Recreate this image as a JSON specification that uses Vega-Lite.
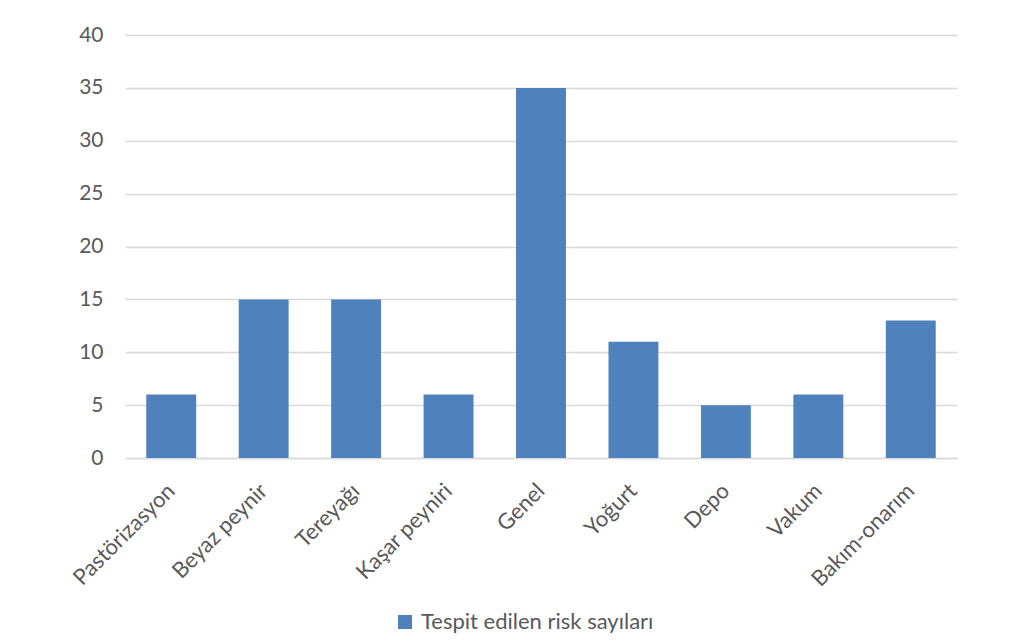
{
  "$schema": "https://vega.github.io/schema/vega-lite/v6.json",
  "autosize": {"type": "none"},
  "width": 832,
  "height": 423,
  "padding": {"left": 125, "top": 35, "right": 59, "bottom": 185},
  "background": "white",
  "data": {
    "values": [
      {"asama": "Pastörizasyon", "risk": 6, "seri": "Tespit edilen risk sayıları"},
      {"asama": "Beyaz peynir", "risk": 15, "seri": "Tespit edilen risk sayıları"},
      {"asama": "Tereyağı", "risk": 15, "seri": "Tespit edilen risk sayıları"},
      {"asama": "Kaşar peyniri", "risk": 6, "seri": "Tespit edilen risk sayıları"},
      {"asama": "Genel", "risk": 35, "seri": "Tespit edilen risk sayıları"},
      {"asama": "Yoğurt", "risk": 11, "seri": "Tespit edilen risk sayıları"},
      {"asama": "Depo", "risk": 5, "seri": "Tespit edilen risk sayıları"},
      {"asama": "Vakum", "risk": 6, "seri": "Tespit edilen risk sayıları"},
      {"asama": "Bakım-onarım", "risk": 13, "seri": "Tespit edilen risk sayıları"}
    ]
  },
  "mark": {"type": "bar"},
  "encoding": {
    "x": {
      "field": "asama",
      "type": "nominal",
      "sort": null,
      "scale": {"paddingInner": 0.46, "paddingOuter": 0.23},
      "axis": {
        "title": null,
        "labelAngle": -45,
        "labelAlign": "right",
        "labelBaseline": "middle",
        "labelFont": "Lato",
        "labelFontSize": 22,
        "labelColor": "#595959",
        "labelPadding": 29,
        "labelLimit": 0,
        "ticks": false,
        "domainColor": "#D9D9D9",
        "domainWidth": 1.5
      }
    },
    "y": {
      "field": "risk",
      "type": "quantitative",
      "scale": {"domain": [0, 40]},
      "axis": {
        "title": null,
        "values": [0, 5, 10, 15, 20, 25, 30, 35, 40],
        "labelFont": "Lato",
        "labelFontSize": 21,
        "labelColor": "#595959",
        "labelPadding": 22,
        "ticks": false,
        "domain": false,
        "gridColor": "#D9D9D9",
        "gridWidth": 1.5
      }
    },
    "color": {
      "field": "seri",
      "type": "nominal",
      "scale": {"range": ["#4F81BD"]},
      "legend": {
        "title": null,
        "orient": "none",
        "legendX": 269,
        "legendY": 576,
        "direction": "horizontal",
        "symbolType": "square",
        "symbolSize": 196,
        "symbolStrokeWidth": 0,
        "symbolOffset": 0,
        "labelFont": "Lato",
        "labelFontSize": 22,
        "labelColor": "#595959",
        "labelLimit": 0,
        "labelOffset": 5
      }
    }
  },
  "config": {
    "view": {"stroke": null}
  }
}
